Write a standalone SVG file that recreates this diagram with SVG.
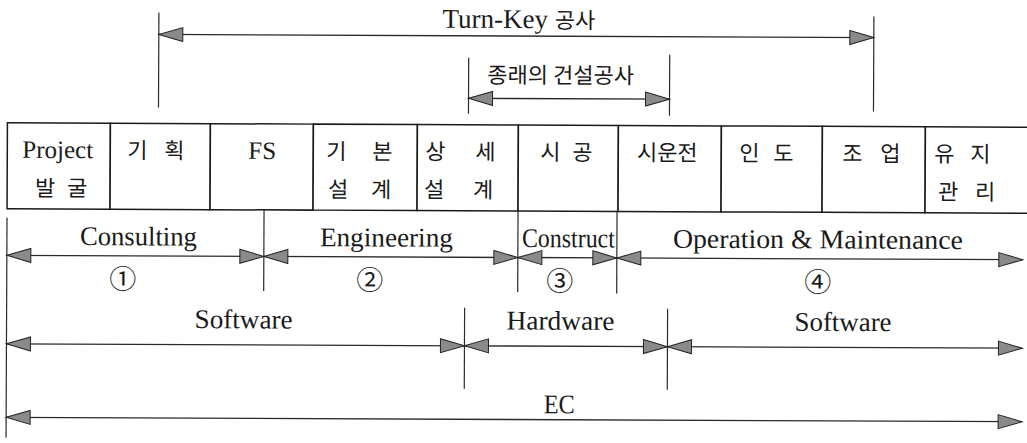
<svg xmlns="http://www.w3.org/2000/svg" width="1027" height="443" viewBox="0 0 1027 443">
<style>
.lat{font-family:"Liberation Serif","DejaVu Serif",serif;font-size:27px;fill:#1a1a1a}
.tl{font-family:"Liberation Serif","DejaVu Serif",serif;font-size:25px;fill:#1a1a1a}
.ko{font-family:"Noto Sans CJK KR",sans-serif;font-size:22px;fill:#1a1a1a}
.num{font-family:"Noto Sans CJK KR",sans-serif;font-size:27px;fill:#1a1a1a}
.cell{fill:#fff;stroke:#1a1a1a;stroke-width:1.5}
.ext{stroke:#2a2a2a;stroke-width:1.2}
.arr{stroke:#2a2a2a;stroke-width:1.3;fill:none;marker-start:url(#ah);marker-end:url(#ah)}
</style>
<defs>
<marker id="ah" markerUnits="userSpaceOnUse" markerWidth="28" markerHeight="18" refX="24" refY="7" orient="auto-start-reverse" overflow="visible">
<path d="M0,0 L24,7 L0,14 Z" fill="#8a8a8a" stroke="#222" stroke-width="1"/>
</marker>
</defs>
<rect width="1027" height="443" fill="#fff"/>
<g transform="rotate(0.25 513 221)">
<g id="cell-project"><rect class="cell" x="7" y="125" width="103" height="86"/><text class="tl" x="57.5" y="160" text-anchor="middle">Project</text><text class="ko" x="45 77" y="198" text-anchor="middle">발굴</text></g>
<g id="cell-plan"><rect class="cell" x="110" y="125" width="100" height="86"/><text class="ko" x="137 174" y="160" text-anchor="middle">기획</text></g>
<g id="cell-fs"><rect class="cell" x="210" y="125" width="103" height="86"/><text class="tl" x="262" y="160" text-anchor="middle">FS</text></g>
<g id="cell-basic"><rect class="cell" x="313" y="125" width="104" height="86"/><text class="ko" x="336 382" y="160" text-anchor="middle">기본</text><text class="ko" x="338 381" y="198" text-anchor="middle">설계</text></g>
<g id="cell-detail"><rect class="cell" x="417" y="125" width="101" height="86"/><text class="ko" x="435 485" y="160" text-anchor="middle">상세</text><text class="ko" x="434 483" y="198" text-anchor="middle">설계</text></g>
<g id="cell-build"><rect class="cell" x="518" y="125" width="100" height="86"/><text class="ko" x="550 582" y="160" text-anchor="middle">시공</text></g>
<g id="cell-trial"><rect class="cell" x="618" y="125" width="103" height="86"/><text class="ko" x="667" y="160" text-anchor="middle">시운전</text></g>
<g id="cell-handover"><rect class="cell" x="721" y="125" width="101" height="86"/><text class="ko" x="749 783" y="160" text-anchor="middle">인도</text></g>
<g id="cell-operate"><rect class="cell" x="822" y="125" width="103" height="86"/><text class="ko" x="852 890" y="160" text-anchor="middle">조업</text></g>
<g id="cell-maint"><rect class="cell" x="925" y="125" width="120" height="86"/><text class="ko" x="944 980" y="160" text-anchor="middle">유지</text><text class="ko" x="948 985" y="198" text-anchor="middle">관리</text></g>

<g id="connectors">
<line class="ext" x1="158" y1="14" x2="158" y2="109"/>
<line class="ext" x1="873" y1="15" x2="873" y2="110"/>
<line class="arr" x1="158" y1="36" x2="873" y2="36"/>
<line class="ext" x1="468" y1="58" x2="468" y2="114"/>
<line class="ext" x1="669" y1="54" x2="669" y2="115"/>
<line class="arr" x1="468" y1="98.5" x2="669" y2="98.5"/>
<line class="ext" x1="7" y1="220" x2="7" y2="440"/>
<line class="ext" x1="264" y1="211" x2="264" y2="292"/>
<line class="ext" x1="518" y1="211" x2="518" y2="292"/>
<line class="ext" x1="617" y1="211" x2="617" y2="293"/>
<line class="arr" x1="7" y1="257.5" x2="264" y2="257.5"/>
<line class="arr" x1="264" y1="257.5" x2="518" y2="257.5"/>
<line class="arr" x1="518" y1="257.5" x2="617" y2="257.5"/>
<line class="arr" x1="617" y1="257.5" x2="1023" y2="257.5"/>
<line class="ext" x1="465" y1="308" x2="465" y2="389"/>
<line class="ext" x1="668" y1="308" x2="668" y2="389"/>
<line class="arr" x1="7" y1="346" x2="465" y2="346"/>
<line class="arr" x1="465" y1="346" x2="668" y2="346"/>
<line class="arr" x1="668" y1="346" x2="1023" y2="346"/>
<line class="arr" x1="7" y1="419.5" x2="1023" y2="419.5"/>
</g>

<g id="labels">
<text class="lat" x="518" y="28" text-anchor="middle">Turn-Key <tspan class="ko">공사</tspan></text>
<text class="ko" x="560" y="83" text-anchor="middle">종래의 건설공사</text>
<text class="lat" x="138.5" y="247" text-anchor="middle" textLength="117" lengthAdjust="spacingAndGlyphs">Consulting</text>
<text class="lat" x="386.5" y="247" text-anchor="middle" textLength="133" lengthAdjust="spacingAndGlyphs">Engineering</text>
<text class="lat" x="568.5" y="247" text-anchor="middle" textLength="93" lengthAdjust="spacingAndGlyphs">Construct</text>
<text class="lat" x="818" y="247" text-anchor="middle" textLength="290" lengthAdjust="spacingAndGlyphs">Operation &amp; Maintenance</text>
<text class="num" x="123" y="279" text-anchor="middle" dominant-baseline="central">①</text>
<text class="num" x="370" y="279" text-anchor="middle" dominant-baseline="central">②</text>
<text class="num" x="560" y="279" text-anchor="middle" dominant-baseline="central">③</text>
<text class="num" x="818" y="279" text-anchor="middle" dominant-baseline="central">④</text>
<text class="lat" x="244" y="329.5" text-anchor="middle" textLength="98" lengthAdjust="spacingAndGlyphs">Software</text>
<text class="lat" x="561" y="329.5" text-anchor="middle" textLength="108" lengthAdjust="spacingAndGlyphs">Hardware</text>
<text class="lat" x="843.5" y="329.5" text-anchor="middle" textLength="97" lengthAdjust="spacingAndGlyphs">Software</text>
<text class="lat" x="560" y="413" text-anchor="middle" textLength="31" lengthAdjust="spacingAndGlyphs">EC</text>
</g>
</g>
</svg>
